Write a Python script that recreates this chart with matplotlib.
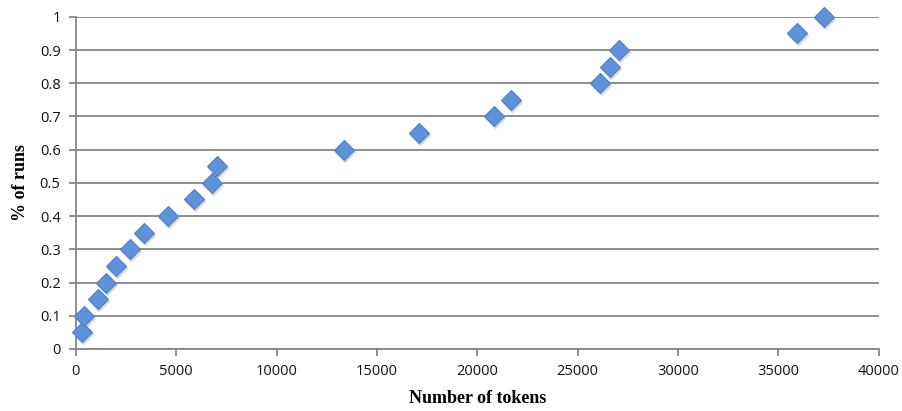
import matplotlib
matplotlib.use("Agg")
import matplotlib.pyplot as plt
import numpy as np

# token counts and cumulative fraction of runs
tokens = [300, 400, 1100, 1500, 2000, 2700, 3400, 4600, 5900, 6800, 7050,
          13350, 17100, 20850, 21700, 26100, 26600, 27050, 35950, 37300]
runs = [0.05, 0.1, 0.15, 0.2, 0.25, 0.3, 0.35, 0.4, 0.45, 0.5, 0.55,
        0.6, 0.65, 0.7, 0.75, 0.8, 0.85, 0.9, 0.95, 1.0]

x_ticks = np.arange(0, 40001, 5000)
y_ticks = np.round(np.arange(0, 1.01, 0.1), 1)

fig = plt.figure(figsize=(9.03, 4.11), dpi=100)
ax = fig.add_axes([0.084, 0.151, 0.889, 0.808])

grid_col = "#878787"
ax.set_xlim(0, 40000)
ax.set_ylim(0, 1)
ax.set_xticks(x_ticks)
ax.set_yticks(y_ticks)
ax.set_xticklabels([str(v) for v in x_ticks])
ax.set_yticklabels([f"{v:g}" for v in y_ticks])
ax.yaxis.grid(True, color=grid_col, linewidth=1.3)
ax.set_axisbelow(True)
for s in ["top", "right"]:
    ax.spines[s].set_visible(False)
for s in ["left", "bottom"]:
    ax.spines[s].set_color(grid_col)
    ax.spines[s].set_linewidth(1.3)
ax.tick_params(direction="out", length=5, width=1.3, color=grid_col,
               labelsize=10.5, labelcolor="#111111", pad=6)
for lab in ax.get_xticklabels() + ax.get_yticklabels():
    lab.set_family("Open Sans")

# soft shadow then markers
shift = matplotlib.transforms.ScaledTranslation(1/100, -2/100, fig.dpi_scale_trans)
ax.plot(tokens, runs, linestyle="none", marker="D", markersize=10,
        color="#a0a0a0", alpha=0.3, zorder=2, transform=ax.transData + shift)
ax.plot(tokens, runs, linestyle="none", marker="D", markersize=10,
        markerfacecolor="#5e92da", markeredgecolor="#4d80c4", markeredgewidth=0.8,
        zorder=3, clip_on=False)

ax.set_xlabel("Number of tokens", family="Liberation Serif", fontweight="bold",
              fontsize=13, labelpad=8)
ax.set_ylabel("% of runs", family="Liberation Serif", fontweight="bold",
              fontsize=13, labelpad=8)

fig.savefig("out.png", dpi=100)
